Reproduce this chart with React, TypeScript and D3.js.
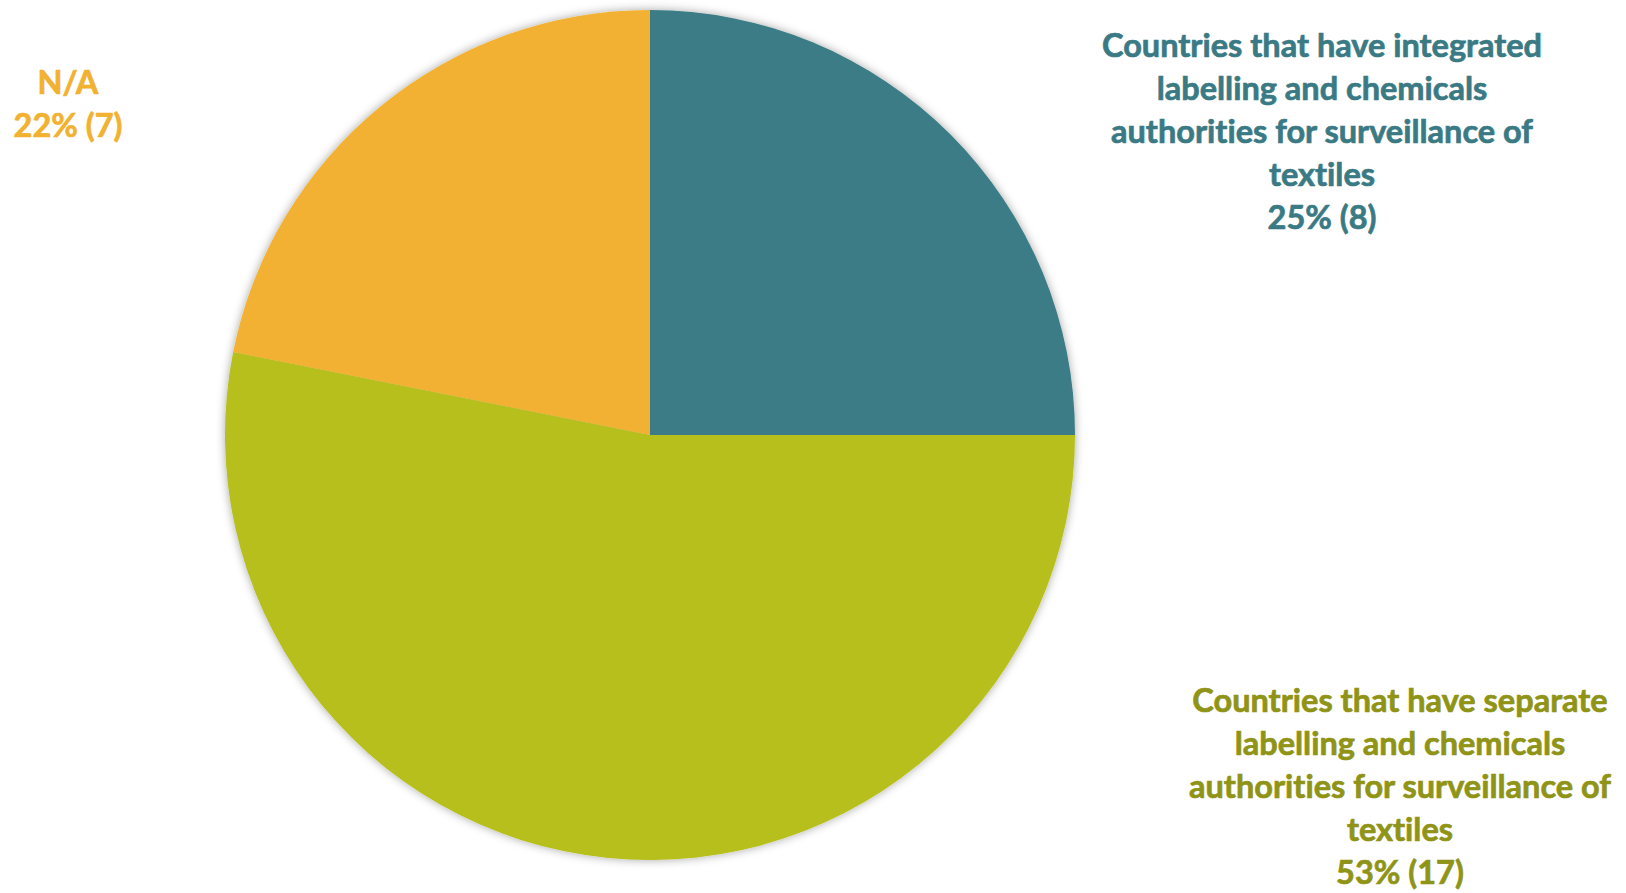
import React from "react";
import * as d3 from "d3";

// Survey result: how countries organise market surveillance of textiles
const categories = [
  "Countries that have integrated labelling and chemicals authorities for surveillance of textiles",
  "Countries that have separate labelling and chemicals authorities for surveillance of textiles",
  "N/A",
];
const counts = [8, 17, 7];
const percentLabels = ["25% (8)", "53% (17)", "22% (7)"];
const labelLines = [
  ["Countries that have integrated", "labelling and chemicals", "authorities for surveillance of", "textiles"],
  ["Countries that have separate", "labelling and chemicals", "authorities for surveillance of", "textiles"],
  ["N/A"],
];
const sliceColors = ["#3A7C86", "#B6BF1A", "#F2B130"];
const textColors = ["#3A7A84", "#8F9417", "#F2B130"];

const W = 1626;
const H = 893;

export default function App() {
  const cx = 650;
  const cy = 435;
  const r = 425;

  const pie = d3
    .pie<number>()
    .sort(null)
    .value((d) => d)
    .startAngle(0)
    .endAngle(2 * Math.PI);
  const arcs = pie(counts);
  const arc = d3.arc<d3.PieArcDatum<number>>().innerRadius(0).outerRadius(r);

  // label blocks: centre x, first baseline, line height
  const labelPos = [
    { x: 1322, y: 57, lh: 43 },
    { x: 1400, y: 712, lh: 43 },
    { x: 68, y: 94, lh: 43 },
  ];

  return (
    <svg
      width={W}
      height={H}
      style={{ position: "absolute", left: 0, top: 0, background: "#fff" }}
    >
      <defs>
        <filter id="pieShadow" x="-10%" y="-10%" width="120%" height="120%">
          <feDropShadow dx="0" dy="0" stdDeviation="5" floodColor="#000" floodOpacity="0.35" />
        </filter>
      </defs>
      <g transform={`translate(${cx},${cy})`} filter="url(#pieShadow)">
        {arcs.map((a, i) => (
          <path key={categories[i]} d={arc(a) || ""} fill={sliceColors[i]} />
        ))}
      </g>
      {labelLines.map((lines, i) => {
        const p = labelPos[i];
        const all = [...lines, percentLabels[i]];
        return (
          <text
            key={i}
            x={p.x}
            y={p.y}
            textAnchor="middle"
            fill={textColors[i]}
            stroke={textColors[i]}
            strokeWidth={0.7}
            style={{
              fontFamily: "Lato, 'Open Sans', sans-serif",
              fontWeight: 700,
              fontSize: 32.5,
              fontVariantLigatures: "none",
            }}
          >
            {all.map((l, j) => (
              <tspan key={j} x={p.x} y={p.y + j * p.lh}>
                {l}
              </tspan>
            ))}
          </text>
        );
      })}
    </svg>
  );
}
